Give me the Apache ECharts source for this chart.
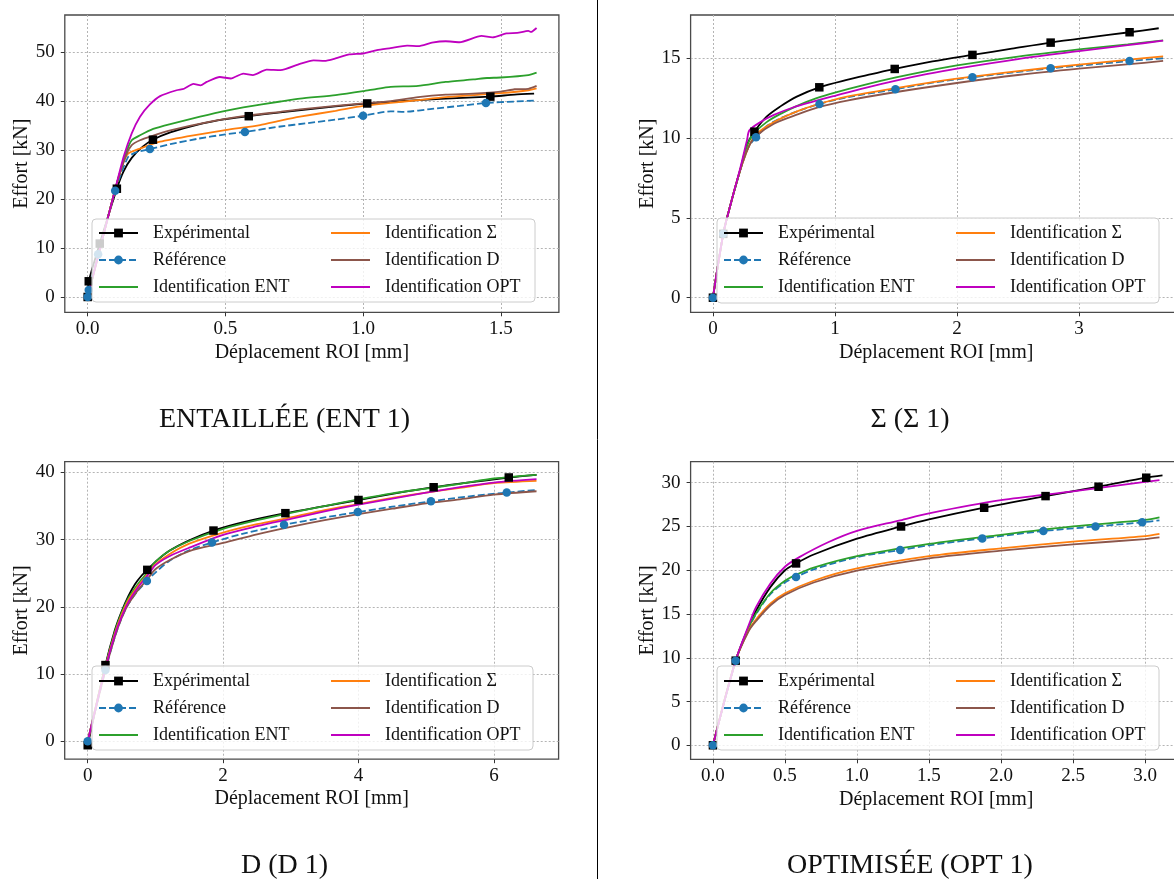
<!DOCTYPE html>
<html><head><meta charset="utf-8">
<script src="https://cdn.jsdelivr.net/npm/echarts@6/dist/echarts.min.js"></script>
<style>html,body{margin:0;padding:0;background:#fff}#c{width:1174px;height:879px}</style>
</head><body><div id="c"></div><script>
// ---------------- DATA ----------------
const seriesNames = ['Expérimental', 'Référence', 'Identification ENT', 'Identification Σ', 'Identification D', 'Identification OPT'];
const panelTitles = ['ENTAILLÉE (ENT 1)', 'Σ (Σ 1)', 'D (D 1)', 'OPTIMISÉE (OPT 1)'];
const xAxisName = 'Déplacement ROI [mm]';
const yAxisName = 'Effort [kN]';

// tick labels
const entXTicks = ['0.0', '0.5', '1.0', '1.5'];
const entYTicks = ['0', '10', '20', '30', '40', '50'];
const sigXTicks = ['0', '1', '2', '3'];
const sigYTicks = ['0', '5', '10', '15'];
const dXTicks = ['0', '2', '4', '6'];
const dYTicks = ['0', '10', '20', '30', '40'];
const optXTicks = ['0.0', '0.5', '1.0', '1.5', '2.0', '2.5', '3.0'];
const optYTicks = ['0', '5', '10', '15', '20', '25', '30'];

// [x (mm), y (kN), marker flag]
// ENTAILLÉE (ENT 1)
const ent1Exp = [[0,0,1],[0.004,3.2,1],[0.044,10.9,1],[0.106,22.1,1],[0.13,25.6],[0.16,28.4],[0.2,30.7],[0.237,32.1,1],[0.3,33.6],[0.4,35.2],[0.5,36.3],[0.585,36.9,1],[0.7,37.7],[0.8,38.3],[0.9,38.9],[1.015,39.5,1],[1.1,39.8],[1.2,40.2],[1.3,40.5],[1.462,40.9,1],[1.55,41.3],[1.621,41.5]];
const ent1Ref = [[0,0,1],[0.004,1.4,1],[0.038,8.7,1],[0.1,21.7,1],[0.147,28.6],[0.18,29.6],[0.226,30.2,1],[0.3,31.2],[0.4,32.3],[0.5,33.2],[0.571,33.7,1],[0.7,34.8],[0.8,35.5],[0.9,36.2],[1.0,37.0,1],[1.1,37.9],[1.15,37.8],[1.25,38.4],[1.35,39.0],[1.446,39.6,1],[1.55,39.9],[1.63,40.1]];
const ent1Ent = [[0,0],[0.05,11],[0.1,22],[0.14,29.5],[0.16,32.0],[0.19,33.0],[0.238,34.3],[0.3,35.3],[0.408,36.8],[0.5,38.0],[0.565,38.7],[0.7,39.9],[0.771,40.5],[0.9,41.2],[1.0,42.0],[1.05,42.5],[1.1,42.9],[1.2,43.1],[1.3,43.9],[1.4,44.4],[1.45,44.7],[1.5,44.8],[1.6,45.3],[1.63,45.8]];
const ent1Sig = [[0,0],[0.05,11],[0.1,22],[0.13,27.5],[0.147,29.3],[0.19,30.3],[0.263,31.7],[0.384,33.0],[0.505,34.1],[0.626,35.1],[0.7,36.0],[0.771,36.8],[0.9,38.0],[1.0,39.0],[1.1,39.6],[1.2,40.2],[1.3,40.8],[1.4,41.2],[1.5,41.6],[1.6,42.2],[1.63,42.6]];
const ent1D = [[0,0],[0.05,11],[0.1,22],[0.14,29.0],[0.16,31.0],[0.19,32.0],[0.23,32.8],[0.3,34.0],[0.445,35.8],[0.577,37.0],[0.7,37.8],[0.771,38.3],[0.9,39.0],[1.0,39.5],[1.1,40.0],[1.2,40.8],[1.3,41.3],[1.4,41.5],[1.5,41.9],[1.55,42.4],[1.6,42.5],[1.63,43.1]];
const ent1Opt = [[0,0],[0.05,11],[0.1,22],[0.13,28.5],[0.16,33.4],[0.19,36.8],[0.226,39.3],[0.263,41.0],[0.323,42.2],[0.35,42.5],[0.384,43.5],[0.41,43.2],[0.432,43.9],[0.48,44.9],[0.52,44.6],[0.565,45.6],[0.6,45.3],[0.65,46.4],[0.7,46.3],[0.771,47.6],[0.82,48.3],[0.86,48.2],[0.9,48.7],[0.95,49.5],[1.0,49.7],[1.05,50.4],[1.1,50.8],[1.16,51.3],[1.2,51.2],[1.25,51.9],[1.3,52.2],[1.35,52.0],[1.43,53.3],[1.47,53.0],[1.52,53.8],[1.56,53.9],[1.6,54.3],[1.61,54.1],[1.63,54.9]];

// Σ (Σ 1)
const sig1Exp = [[0,0,1],[0.085,4.0,1],[0.15,6.0],[0.22,7.9],[0.28,9.6],[0.34,10.4,1],[0.44,11.34],[0.55,11.97],[0.687,12.6],[0.872,13.18,1],[1.097,13.64],[1.3,14.0],[1.49,14.33,1],[1.8,14.8],[2.127,15.21,1],[2.45,15.6],[2.768,15.98,1],[3.1,16.32],[3.415,16.63,1],[3.654,16.88]];
const sig1Ref = [[0,0,1],[0.085,4.0,1],[0.15,6.0],[0.22,7.9],[0.29,9.4],[0.353,10.05,1],[0.45,10.8],[0.6,11.4],[0.873,12.14,1],[1.1,12.55],[1.496,13.06,1],[1.8,13.47],[2.127,13.81,1],[2.45,14.1],[2.768,14.37,1],[3.1,14.6],[3.415,14.83,1],[3.69,15.0]];
const sig1Ent = [[0,0],[0.085,4.0],[0.15,6.0],[0.22,7.9],[0.28,9.5],[0.326,10.2],[0.44,11.0],[0.55,11.5],[0.7,12.05],[0.85,12.5],[1.0,12.85],[1.25,13.35],[1.5,13.8],[1.75,14.2],[2.0,14.55],[2.5,15.1],[3.0,15.55],[3.4,15.87],[3.69,16.12]];
const sig1Sig = [[0,0],[0.085,4.0],[0.15,6.0],[0.22,7.9],[0.29,9.4],[0.35,10.2],[0.5,11.0],[0.7,11.7],[0.873,12.15],[1.1,12.6],[1.49,13.12],[2.0,13.72],[2.5,14.2],[3.0,14.6],[3.415,14.92],[3.69,15.12]];
const sig1D = [[0,0],[0.085,4.0],[0.15,6.0],[0.22,7.9],[0.29,9.4],[0.35,10.1],[0.5,10.9],[0.7,11.5],[0.873,11.95],[1.1,12.35],[1.49,12.87],[2.0,13.45],[2.5,13.95],[3.0,14.35],[3.415,14.63],[3.69,14.83]];
const sig1Opt = [[0,0],[0.085,4.0],[0.15,6.0],[0.22,8.0],[0.28,9.9],[0.3,10.5],[0.4,11.05],[0.5,11.45],[0.65,11.9],[0.82,12.28],[1.0,12.65],[1.25,13.15],[1.5,13.6],[1.75,14.0],[2.0,14.35],[2.5,14.95],[3.0,15.45],[3.4,15.82],[3.69,16.1]];

// D (D 1)
const d1Exp = [[0,-0.6,1],[0.262,11.33,1],[0.4,16.5],[0.5,19.3],[0.6,21.6],[0.7,23.4],[0.8,24.7],[0.88,25.5,1],[1.0,26.7],[1.2,28.3],[1.5,29.9],[1.858,31.35,1],[2.3,32.6],[2.92,33.94,1],[3.5,35.0],[4.0,35.9,1],[4.5,36.8],[5.11,37.8,1],[5.7,38.6],[6.22,39.25,1],[6.63,39.65]];
const d1Ref = [[0,0,1],[0.262,10.6,1],[0.4,15.5],[0.5,18.3],[0.6,20.4],[0.75,22.5],[0.874,23.85,1],[1.0,25.1],[1.2,26.8],[1.5,28.4],[1.836,29.57,1],[2.3,30.9],[2.9,32.2,1],[3.5,33.3],[3.99,34.1,1],[4.5,34.9],[5.07,35.7,1],[5.6,36.4],[6.19,37.0,1],[6.63,37.4]];
const d1Ent = [[0,0],[0.262,11.2],[0.4,16.3],[0.5,19.1],[0.6,21.3],[0.75,23.5],[0.88,25.1],[1.0,26.7],[1.2,28.3],[1.5,29.8],[2.0,31.6],[2.5,32.9],[3.0,34.0],[3.5,35.0],[4.0,36.0],[4.5,36.9],[5.0,37.6],[5.5,38.3],[6.0,39.1],[6.63,39.65]];
const d1Sig = [[0,0],[0.262,11.0],[0.4,16.0],[0.5,18.8],[0.6,21.0],[0.75,23.2],[0.88,24.8],[1.0,26.3],[1.2,27.8],[1.5,29.4],[2.0,31.05],[2.5,32.3],[3.0,33.3],[3.5,34.4],[4.0,35.3],[4.5,36.2],[5.0,37.0],[5.5,37.7],[6.0,38.4],[6.63,38.75]];
const d1D = [[0,0],[0.262,10.6],[0.4,15.5],[0.5,18.3],[0.6,20.4],[0.75,22.6],[0.88,24.1],[1.0,25.6],[1.2,26.9],[1.5,28.3],[2.0,29.5],[2.5,30.8],[3.0,31.9],[3.5,32.9],[4.0,33.8],[4.5,34.6],[5.0,35.4],[5.5,36.0],[6.0,36.7],[6.63,37.2]];
const d1Opt = [[0,0],[0.262,10.9],[0.4,15.8],[0.5,18.5],[0.6,20.7],[0.75,23.0],[0.88,24.6],[1.0,26.2],[1.2,27.5],[1.5,28.8],[2.0,30.7],[2.5,32.0],[3.0,33.1],[3.5,34.2],[4.0,35.2],[4.5,36.1],[5.0,37.0],[5.5,37.8],[6.0,38.5],[6.63,39.0]];

// OPTIMISÉE (OPT 1)
const opt1Exp = [[0,0,1],[0.158,9.67,1],[0.25,13.6],[0.3,15.4],[0.4,18.1],[0.5,20.0],[0.577,20.78,1],[0.7,21.8],[1.0,23.6],[1.306,25.0,1],[1.5,25.8],[1.883,27.14,1],[2.309,28.47,1],[2.677,29.54,1],[3.008,30.57,1],[3.121,30.83]];
const opt1Ref = [[0,0,1],[0.158,9.67,1],[0.25,13.4],[0.3,15.0],[0.4,17.3],[0.5,18.6],[0.577,19.22,1],[0.7,20.1],[1.0,21.5],[1.3,22.3,1],[1.5,22.85],[1.87,23.64,1],[2.294,24.48,1],[2.656,25.0,1],[2.98,25.47,1],[3.1,25.7]];
const opt1Ent = [[0,0],[0.158,9.7],[0.25,13.5],[0.3,15.1],[0.4,17.4],[0.5,18.8],[0.58,19.5],[0.7,20.3],[1.0,21.6],[1.5,23.0],[2.0,24.05],[2.5,25.0],[3.0,25.75],[3.1,26.04]];
const opt1Sig = [[0,0],[0.158,9.7],[0.25,13.2],[0.3,14.4],[0.4,16.2],[0.5,17.36],[0.7,18.8],[1.0,20.2],[1.5,21.6],[2.0,22.5],[2.5,23.26],[3.0,23.9],[3.1,24.15]];
const opt1D = [[0,0],[0.158,9.7],[0.25,13.1],[0.3,14.2],[0.4,16.0],[0.5,17.17],[0.7,18.6],[1.0,19.95],[1.5,21.35],[2.0,22.23],[2.5,22.95],[3.0,23.56],[3.1,23.75]];
const opt1Opt = [[0,0],[0.158,9.7],[0.25,13.8],[0.3,15.8],[0.4,18.5],[0.5,20.4],[0.6,21.5],[0.8,23.2],[1.0,24.5],[1.3,25.7],[1.5,26.5],[2.0,28.0],[2.5,29.0],[3.0,30.1],[3.1,30.3]];

// ---------------- STYLE / LAYOUT ----------------
const F = '"Liberation Serif", "Times New Roman", serif';
const colors = ['#000000', '#1f77b4', '#2ca02c', '#ff7f0e', '#8c564b', '#bf00bf'];
const symbols = ['rect', 'circle', 'none', 'none', 'none', 'none'];

const panels = [
  { title: panelTitles[0], grid: {left: 64.8, top: 15, width: 494.1, height: 297.3},
    x: [-0.083, 1.711], y: [-3.13, 57.56], xt: entXTicks, yt: entYTicks, smooth: 0.2,
    data: [ent1Exp, ent1Ref, ent1Ent, ent1Sig, ent1D, ent1Opt],
    legend: {left: 98, top: 224}, box: [92, 219, 443, 83], tpos: [284.5, 420] },
  { title: panelTitles[1], grid: {left: 690.6, top: 15, width: 491.2, height: 297.3},
    x: [-0.183, 3.843], y: [-0.915, 17.71], xt: sigXTicks, yt: sigYTicks, smooth: 0.3,
    data: [sig1Exp, sig1Ref, sig1Ent, sig1Sig, sig1D, sig1Opt],
    legend: {left: 723, top: 224}, box: [717, 218, 442, 85], tpos: [910, 420] },
  { title: panelTitles[2], grid: {left: 64.7, top: 461.7, width: 493.9, height: 297.5},
    x: [-0.34, 6.956], y: [-2.68, 41.6], xt: dXTicks, yt: dYTicks, smooth: 0.3,
    data: [d1Exp, d1Ref, d1Ent, d1Sig, d1D, d1Opt],
    legend: {left: 98, top: 672}, box: [92, 666, 441, 84], tpos: [284.5, 866] },
  { title: panelTitles[3], grid: {left: 690.6, top: 461.7, width: 491.2, height: 297.6},
    x: [-0.155, 3.255], y: [-1.6, 32.4], xt: optXTicks, yt: optYTicks, smooth: 0.3,
    data: [opt1Exp, opt1Ref, opt1Ent, opt1Sig, opt1D, opt1Opt],
    legend: {left: 723, top: 672}, box: [717, 666, 442, 84], tpos: [910, 866] }
];

function fmt(vals, labs) {
  return function (v) {
    const i = vals.findIndex(t => Math.abs(t - v) < 1e-9);
    return i >= 0 ? labs[i] : '';
  };
}

const grids = [], xAxes = [], yAxes = [], series = [], legends = [], graphics = [];
const lineIcon = 'path://M0,0H39V1.8H0Z';

panels.forEach((p, gi) => {
  grids.push(Object.assign({show: true, borderColor: '#4a4a4a', borderWidth: 1.3,
    backgroundColor: 'transparent', containLabel: false, outerBoundsMode: 'none'}, p.grid));
  const xv = p.xt.map(parseFloat), yv = p.yt.map(parseFloat);
  xAxes.push({
    type: 'value', gridIndex: gi, min: p.x[0], max: p.x[1],
    name: xAxisName, nameLocation: 'middle', nameGap: 30, nameMoveOverlap: false,
    nameTextStyle: {fontFamily: F, fontSize: 20, color: '#111'},
    axisLine: {show: false, onZero: false},
    axisTick: {show: true, inside: false, length: 4, lineStyle: {color: '#333', width: 1}, customValues: xv},
    axisLabel: {show: true, margin: 7, fontFamily: F, fontSize: 19, color: '#111', customValues: xv, formatter: fmt(xv, p.xt)},
    splitLine: {show: true, lineStyle: {color: '#b4b4b4', width: 1, type: [2, 2]}},
    splitArea: {show: false}
  });
  yAxes.push({
    type: 'value', gridIndex: gi, min: p.y[0], max: p.y[1],
    name: yAxisName, nameLocation: 'middle', nameGap: 33, nameMoveOverlap: false,
    nameTextStyle: {fontFamily: F, fontSize: 20, color: '#111'},
    axisLine: {show: false, onZero: false},
    axisTick: {show: true, inside: false, length: 4, lineStyle: {color: '#333', width: 1}, customValues: yv},
    axisLabel: {show: true, margin: 10, fontFamily: F, fontSize: 19, color: '#111', customValues: yv, formatter: fmt(yv, p.yt)},
    splitLine: {show: true, lineStyle: {color: '#b4b4b4', width: 1, type: [2, 2]}},
    splitArea: {show: false}
  });
  p.data.forEach((pts, si) => {
    const sym = symbols[si];
    const data = pts.map(q => (sym !== 'none' && q[2]) ? {value: [q[0], q[1]]} : {value: [q[0], q[1]], symbol: 'none'});
    series.push({
      type: 'line', name: seriesNames[si], xAxisIndex: gi, yAxisIndex: gi, data: data,
      symbol: sym === 'none' ? 'circle' : sym, symbolSize: 8.5, showSymbol: true,
      smooth: p.smooth, clip: true,
      lineStyle: {color: colors[si], width: 1.8, type: si === 1 ? [7, 3] : 'solid'},
      itemStyle: {color: colors[si]},
      emphasis: {disabled: true}, animation: false, z: 2
    });
  });
  legends.push({
    orient: 'vertical', left: p.legend.left, top: p.legend.top, height: 80, padding: 0,
    itemGap: 9, itemWidth: 39, itemHeight: 11, selectedMode: false, z: 100,
    textStyle: {fontFamily: F, fontSize: 18, color: '#111', lineHeight: 18, width: 168, padding: [0, 0, 0, 10]},
    data: seriesNames.map((n, si) => symbols[si] === 'none' ? {name: n, icon: lineIcon} : {name: n})
  });
  graphics.push({type: 'rect', z: 50, shape: {x: p.box[0], y: p.box[1], width: p.box[2], height: p.box[3], r: 4},
    style: {fill: 'rgba(255,255,255,0.8)', stroke: '#cccccc', lineWidth: 1}});
  graphics.push({type: 'text', z: 50, x: p.tpos[0], y: p.tpos[1],
    style: {text: p.title, font: '28px ' + F, fill: '#111', textAlign: 'center', textVerticalAlign: 'middle', align: 'center', verticalAlign: 'middle'}});
});
graphics.push({type: 'line', z: 50, shape: {x1: 597.5, y1: 0, x2: 597.5, y2: 879}, style: {stroke: '#000', lineWidth: 1}});

const chart = echarts.init(document.getElementById('c'), null, {renderer: 'canvas'});
chart.setOption({
  animation: false, backgroundColor: '#ffffff',
  grid: grids, xAxis: xAxes, yAxis: yAxes, series: series, legend: legends, graphic: graphics
});
</script></body></html>
